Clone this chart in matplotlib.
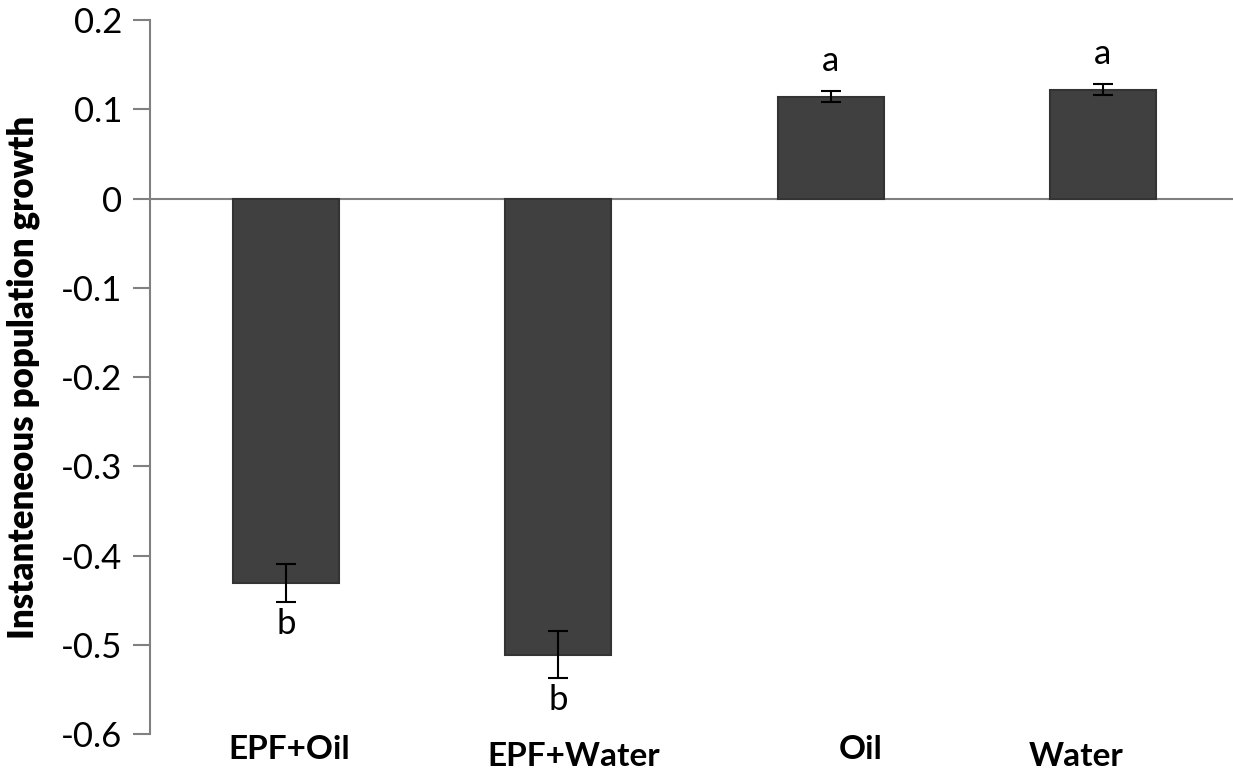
import numpy as np
import matplotlib
matplotlib.use('Agg')
from matplotlib import pyplot as plt

plt.rcParams['font.family'] = ['Lato', 'DejaVu Sans']

treatments = ['EPF+Oil', 'EPF+Water', 'Oil', 'Water']
growth = [-0.431, -0.511, 0.114, 0.122]
sem = [0.021, 0.026, 0.006, 0.006]
groups = ['b', 'b', 'a', 'a']

x = np.arange(len(treatments))

fig = plt.figure(figsize=(12.33, 7.72), dpi=100)
ax = fig.add_axes([150/1233, 38/772, 1 - 150/1233, 714/772])

ax.bar(x, growth, width=0.39, color='#404040', edgecolor='#333333', linewidth=1.5, zorder=2)
ax.errorbar(x, growth, yerr=sem, fmt='none', ecolor='black', elinewidth=1.5,
            capsize=7, capthick=1.5, zorder=3)
ax.axhline(0, color='#808080', linewidth=1.5, zorder=1)

# significance letters above / below the error bars
for xi, g, e, lab in zip(x, growth, sem, groups):
    if g > 0:
        ax.annotate(lab, (xi, g + e), xytext=(0, 22), textcoords='offset points',
                    ha='center', va='center', fontsize=25)
    else:
        ax.annotate(lab, (xi, g - e), xytext=(0, -16), textcoords='offset points',
                    ha='center', va='center', fontsize=25)

# category names sit slightly off-centre under each bar
label_dx = [0.01, 0.055, 0.11, -0.1]
label_y = [-0.617, -0.625, -0.617, -0.625]
for xi, name, dx, ly in zip(x, treatments, label_dx, label_y):
    ax.text(xi + dx, ly, name, ha='center', va='center', fontsize=24,
            fontweight='bold', clip_on=False)

ax.set_xlim(-0.5, 3.478)
ax.set_ylim(-0.6, 0.2)
ax.set_yticks(np.arange(-0.6, 0.21, 0.1))
ax.set_yticklabels(['-0.6', '-0.5', '-0.4', '-0.3', '-0.2', '-0.1', '0', '0.1', '0.2'])
ax.set_xticks([])

for s in ['top', 'right', 'bottom']:
    ax.spines[s].set_visible(False)
ax.spines['left'].set_color('#808080')
ax.spines['left'].set_linewidth(1.5)
ax.tick_params(axis='y', direction='out', length=12, width=1.5, color='#808080',
               labelsize=25, pad=8)

ax.set_ylabel('Instanteneous population growth', fontsize=25, fontweight='heavy')
ax.yaxis.set_label_coords(-110/1083, 0.5)

fig.savefig('out.png', dpi=100)
